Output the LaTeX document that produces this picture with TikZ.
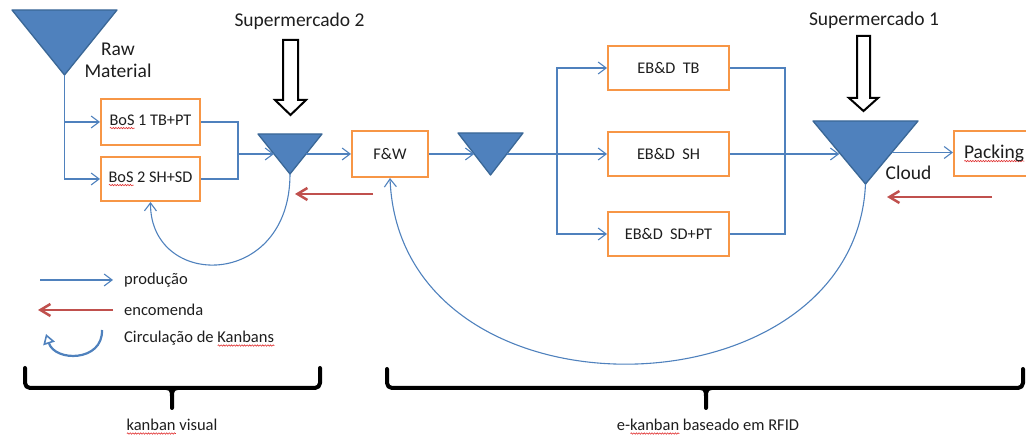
\documentclass[tikz,border=0pt]{standalone}
\usepackage{fontspec}
\setmainfont{Carlito}
\usetikzlibrary{arrows.meta,calc,decorations.pathmorphing}

\definecolor{flowblue}{HTML}{4F81BD}
\definecolor{tridark}{HTML}{3A6796}
\definecolor{boxorange}{HTML}{F79646}
\definecolor{orderred}{HTML}{C0504D}
\definecolor{spellred}{HTML}{E03030}
\definecolor{ink}{HTML}{1E1E1E}

% word with a wavy red underline
\newlength\spellw
\newcommand\spell[1]{\settowidth\spellw{#1}%
  \rlap{\tikz[baseline=0pt]\draw[spellred,line width=0.6pt,decorate,
        decoration={snake,amplitude=0.7pt,segment length=2.6pt}]
    (0pt,-2.6pt)--(\spellw,-2.6pt);}#1}

% inventory triangle drawn inside a (blank) node
\newcommand\stocktri[1]{\draw[stockfill] (#1.north west) -- (#1.north east) -- (#1.south) -- cycle;}

\begin{document}
\begin{tikzpicture}[x=1pt,y=-1pt,
  bigfont/.style={font=\fontsize{19.5}{22}\selectfont},
  smallfont/.style={font=\fontsize{16.5}{19}\selectfont},
  procbox/.style={draw=boxorange,line width=2pt,fill=white,inner sep=0pt,
                  text=ink,font=\fontsize{16.3}{19}\selectfont},
  stock/.style={inner sep=0pt,outer sep=0pt,draw=none},
  stockfill/.style={fill=flowblue,draw=tridark,line width=1.3pt,line join=round},
  link/.style={flowblue,line width=1.1pt},
  prod/.style={link,-{Straight Barb[length=8pt,width=12pt]}},
  order/.style={orderred,line width=2.5pt,-{Straight Barb[length=10pt,width=12pt]}},
  loopkey/.style={flowblue,line width=2.2pt,-{Triangle[open,length=10pt,width=12pt,line width=1.6pt]}},
  supply/.style={draw=black,line width=2pt,fill=white,line join=miter},
  bracket/.style={black,line width=4pt,line cap=round,line join=round},
  label/.style={text=ink,inner sep=0pt}
]
\useasboundingbox (0,0) rectangle (1026,435);

% ---------- process boxes ----------
\node[procbox,minimum width=99pt,minimum height=46pt] (bos1) at (150.5,122) {\spell{BoS} 1 TB+PT};
\node[procbox,minimum width=99pt,minimum height=44pt] (bos2) at (150.5,179) {\spell{BoS} 2 SH+SD};
\node[procbox,minimum width=76pt,minimum height=46pt] (fw) at (390,154) {F\&W};
\node[procbox,minimum width=121pt,minimum height=44pt] (eb1) at (668.5,68) {EB\&D\ \ TB};
\node[procbox,minimum width=121pt,minimum height=44pt] (eb2) at (668.5,154) {EB\&D\ \ SH};
\node[procbox,minimum width=121pt,minimum height=44pt] (eb3) at (668.5,234) {EB\&D\ \ SD+PT};
\node[procbox,bigfont,anchor=west,minimum height=45pt,text width=70pt,align=left,
      inner xsep=10pt] (pack) at (953,153.5) {\spell{Packing}};

% ---------- inventory triangles ----------
\node[stock,minimum width=105pt,minimum height=65pt] (raw) at (64.5,42.5) {};
\node[stock,minimum width=64pt,minimum height=40pt] (s2) at (290,154) {};
\node[stock,minimum width=65pt,minimum height=42pt] (s3) at (490.5,154) {};
\node[stock,minimum width=105pt,minimum height=63pt] (cloud) at (865.5,152.5) {};
\stocktri{raw}
\stocktri{s2}
\stocktri{s3}
\stocktri{cloud}

\coordinate (s2in)  at ($(s2.north west)!0.5!(s2.south)$);
\coordinate (s2out) at ($(s2.north east)!0.5!(s2.south)$);
\coordinate (s3in)  at ($(s3.north west)!0.5!(s3.south)$);
\coordinate (s3out) at ($(s3.north east)!0.5!(s3.south)$);
\coordinate (clin)  at ($(cloud.north west)!0.5!(cloud.south)$);
\coordinate (clout) at ($(cloud.north east)!0.5!(cloud.south)$);

% ---------- labels ----------
\node[label,bigfont,align=center] (rawlbl) at (118,60) {Raw\\Material};
\node[label,bigfont] (sm2) at (299.5,21) {Supermercado 2};
\node[label,bigfont] (sm1) at (874,20) {Supermercado 1};
\node[label,bigfont] (cloudlbl) at (908.5,173) {Cloud};

% ---------- supermarket supply arrows ----------
\draw[supply] (283,40) -- (298,40) -- (298,100) -- (306,100) -- (290.5,115)
  -- (275,100) -- (283,100) -- cycle;
\draw[supply] (857,36) -- (870,36) -- (870,98) -- (878,98) -- (863.5,111)
  -- (849,98) -- (857,98) -- cycle;

% ---------- production flow ----------
\coordinate (j1) at (238,154);
\coordinate (busL) at (557,154);
\coordinate (busR) at (785,154);

\draw[prod] (raw.south) |- (bos1.west);
\draw[prod] (raw.south) |- (bos2.west);
\draw[link] (bos1.east) -| (j1);
\draw[link] (bos2.east) -| (j1);
\draw[prod] (j1) -- (s2in);
\draw[prod] (s2out) -- (fw.west);
\draw[prod] (fw.east) -- (s3in);
\draw[link,line width=1.8pt] (s3out) -- (busL);
\draw[prod] (busL) -- (busL -| eb2.west);
\draw[prod] (busL) |- (eb1.west);
\draw[prod] (busL) |- (eb3.west);
\draw[link] (eb1.east) -| (busR);
\draw[link] (eb3.east) -| (busR);
\draw[prod] (eb2.east) -- (eb2.east -| clin);
\draw[prod] (clout) -- (clout -| pack.west);

% ---------- kanban loops ----------
\draw[prod] (s2.south) .. controls (290,290) and (150,290) .. (bos2.south);
\draw[prod] (cloud.south) .. controls (855,420) and (400,430) .. (fw.south);

% ---------- orders ----------
\coordinate (o2a) at (373,194);
\coordinate (o2b) at (295,194);
\coordinate (o1a) at (992,197);
\coordinate (o1b) at (887,197);
\draw[order] (o2a) -- (o2b);
\draw[order] (o1a) -- (o1b);

% ---------- legend ----------
\coordinate (lgA1) at (40,280);
\coordinate (lgA2) at (113,280);
\coordinate (lgB1) at (113,310);
\coordinate (lgB2) at (38,310);
\coordinate (lgC1) at (102,330);
\coordinate (lgC2) at (46,334);
\draw[prod] (lgA1) -- (lgA2);
\draw[order] (lgB1) -- (lgB2);
\draw[loopkey] (lgC1) .. controls (103,362) and (55,362) .. (lgC2);
\node[label,smallfont,anchor=west] (lgT1) at (124,280) {produção};
\node[label,smallfont,anchor=west] (lgT2) at (124,310) {encomenda};
\node[label,smallfont,anchor=west] (lgT3) at (124,339) {Circulação de \spell{Kanbans}};

% ---------- scope brackets ----------
\draw[bracket,rounded corners=5pt] (25,368) -- (25,388) -- (320,388) -- (320,368);
\draw[bracket] (166,388) .. controls (171,388) and (172,391) .. (172,396) -- (172,408);
\draw[bracket] (178,388) .. controls (173,388) and (172,391) .. (172,396);
\node[label,smallfont] (vis) at (172,427) {\spell{kanban} visual};

\draw[bracket,rounded corners=5pt] (387,369) -- (387,388) -- (1023,388) -- (1023,369);
\draw[bracket] (700,388) .. controls (705,388) and (706,391) .. (706,396) -- (706,408);
\draw[bracket] (712,388) .. controls (707,388) and (706,391) .. (706,396);
\node[label,smallfont] (rfid) at (708,427) {e-\spell{kanban} baseado em RFID};
\end{tikzpicture}
\end{document}
